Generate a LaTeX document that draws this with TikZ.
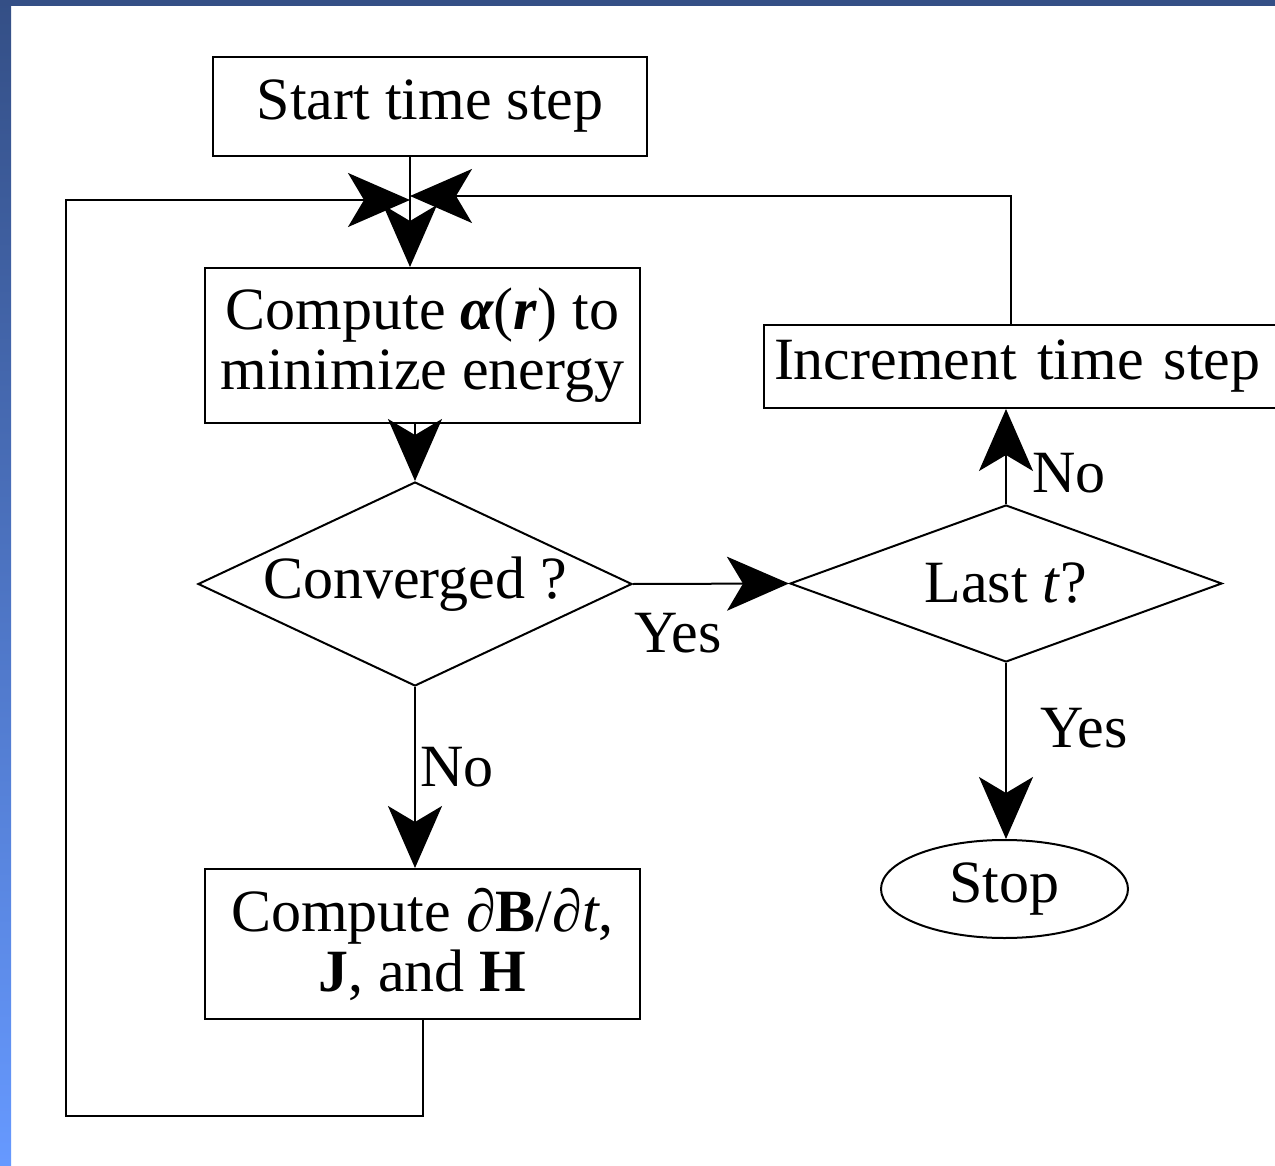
\documentclass[tikz,border=0pt]{standalone}
\usepackage{fontspec}
\setmainfont{Liberation Serif}
\usetikzlibrary{shapes.geometric,arrows.meta}
\definecolor{topblue}{RGB}{52,79,134}
\definecolor{botblue}{RGB}{102,153,255}
\begin{document}
\begin{tikzpicture}[x=0.5pt,y=-0.5pt,
  every node/.style={font=\fontsize{30}{30}\selectfont},
  box/.style={draw,line width=1pt,rectangle,inner sep=0pt,align=center},
  dia/.style={draw,line width=1pt,diamond,inner sep=0pt},
  arr/.style={line width=1pt,-{Stealth[length=31pt,width=27pt,inset=8pt]}},
  ln/.style={line width=1pt},
  lbl/.style={inner sep=0pt}]
\useasboundingbox (0,0) rectangle (1275,1166);
\fill[white] (0,0) rectangle (1275,1166);
\shade[top color=topblue,bottom color=botblue] (0,0) rectangle (11,1166);
\fill[topblue] (0,0) rectangle (1275,6);

\node[box,minimum width=217pt,minimum height=49.5pt] (start) at (430,106.5) {Start time step};
\node[box,minimum width=217.5pt,minimum height=77.5pt] (comp) at (422.5,345.5)
  {Compute {\bfseries\itshape α}(\textbf{\textit{r}}) to\\minimize energy};
\node[dia,minimum width=217pt,minimum height=102pt,label={center:Converged ?}] (conv) at (415,584) {};
\node[dia,minimum width=216pt,minimum height=78.5pt,label={center:Last \textit{t}?}] (last) at (1006,583.5) {};
\node[box,anchor=west,align=left,text width=255pt,inner xsep=5pt,minimum height=41.5pt] (inc) at (763,366.5) {Increment time step};
\node[draw,line width=1pt,ellipse,inner sep=0pt,minimum width=123.5pt,minimum height=49pt] (stop) at (1004.5,889) {Stop};
\node[box,minimum width=217.5pt,minimum height=75pt] (compB) at (422.5,944)
  {Compute ∂\textbf{B}/∂\textit{t},\\\textbf{J}, and \textbf{H}};

\coordinate (J) at (410,198);
\coordinate (LB) at (66,1116);
\coordinate (LT) at (66,200);
\coordinate (RT) at (1011,196);

\draw[arr] (start.south -| J) -- (comp.north -| J);
\draw[arr] (compB.south) |- (LB) -- (LT) -- (LT -| J);
\draw[arr] (inc.north -| RT) -- (RT) -- (RT -| J);
\draw[arr] (comp.south -| conv.north) -- (conv.north);
\draw[arr] (conv.east) -- (last.west);
\draw[arr] (last.north) -- (last.north |- inc.south);
\draw[arr] (last.south) -- (last.south |- stop.north);
\draw[arr] (conv.south) -- (conv.south |- compB.north);

\node[lbl] (yes1) at (678,633) {Yes};
\node[lbl] (no1) at (1069,473) {No};
\node[lbl] (yes2) at (1084,728) {Yes};
\node[lbl] (no2) at (457,767) {No};
\end{tikzpicture}
\end{document}
